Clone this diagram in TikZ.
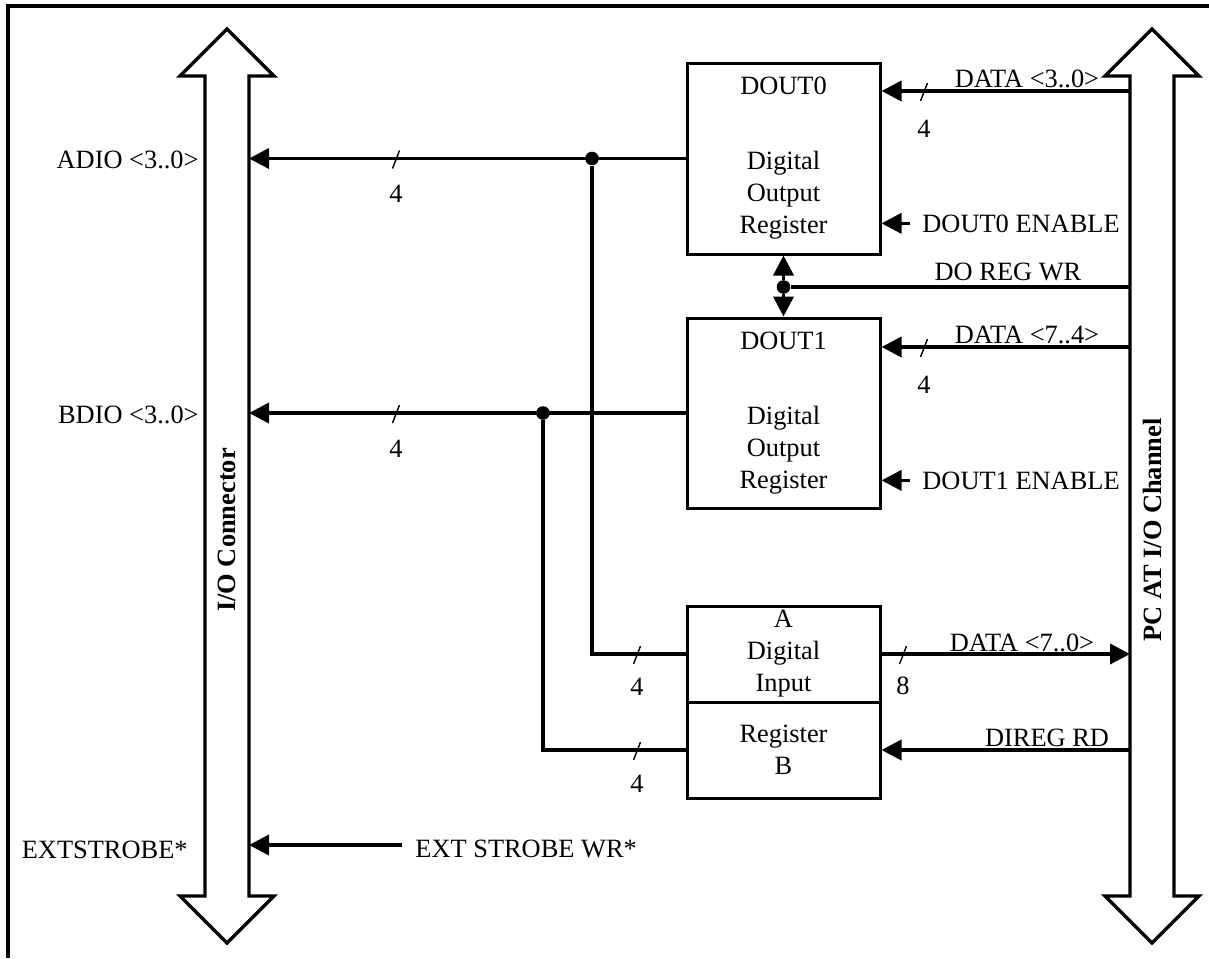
\documentclass[tikz,border=0pt]{standalone}
\usepackage{fontspec}
\setmainfont{Liberation Serif}
\usetikzlibrary{arrows.meta, positioning}

\begin{document}
\begin{tikzpicture}[
    x=0.5pt, y=-0.5pt,
    font=\fontsize{13.2}{16}\selectfont,
    every node/.style={inner sep=0pt},
    regbox/.style={draw, line width=1.5pt, minimum width=96.5pt, align=center},
    bus/.style={line width=1.7pt, line join=miter},
    wire/.style={line width=1.8pt},
    sig/.style={wire, -{Triangle[length=10pt, width=10pt]}},
    slashmk/.style={line width=0.7pt},
    dot/.style={circle, fill, minimum size=6.8pt},
    lbl/.style={anchor=base},
    busname/.style={rotate=90, font=\fontsize{13.2}{16}\selectfont\bfseries}
]
\useasboundingbox (0,0) rectangle (1209,958);

% frame
\draw[line width=1.8pt] (8,958) -- (8,6) -- (1209,6);

% the two buses
\draw[bus] (227,29) -- (274,76) -- (249,76) -- (249,896) -- (274,896) -- (227,943)
    -- (180,896) -- (205,896) -- (205,76) -- (180,76) -- cycle;
\draw[bus] (1152,29) -- (1199,76) -- (1174,76) -- (1174,896) -- (1199,896) -- (1152,943)
    -- (1105,896) -- (1130,896) -- (1130,76) -- (1105,76) -- cycle;
\node[busname] (ioconn) at (227,530) {I/O Connector};
\node[busname] (pcchan) at (1152,530) {PC AT I/O Channel};
\coordinate (ioedge) at (249,0);
\coordinate (pcedge) at (1130,0);

% registers
\node[regbox, minimum height=95.5pt] (dout0) at (783.5,158.5) {DOUT0\\[21.5pt]Digital\\Output\\Register};
\node[regbox, minimum height=95pt] (dout1) at (783.5,413) {DOUT1\\[21.5pt]Digital\\Output\\Register};
\node[regbox, minimum height=48pt] (dia) at (783.5,654) {A\\Digital\\Input};
\node[regbox, minimum height=48pt] (dib) at (783.5,750) {Register\\B};

% outputs to the I/O connector
\draw[sig] (dout0.west) -- (dout0.west -| ioedge);
\draw[sig] (dout1.west) -- (dout1.west -| ioedge);
\node[dot] (tapa) at (592,158.5) {};
\node[dot] (tapb) at (543,413) {};
\draw[wire] (tapa) |- (dia.west);
\draw[wire] (tapb) |- (dib.west);

% PC side
\coordinate (d30) at (1130,91);
\coordinate (d74) at (1130,347);
\draw[sig] (d30) -- (d30 -| dout0.east);
\draw[sig] (d74) -- (d74 -| dout1.east);
\draw[sig] (dia.east) -- (dia.east -| pcedge);
\draw[sig] (dib.east -| pcedge) -- (dib.east);

\node[dot] (wrtap) at (783.5,287) {};
\draw[wire] (wrtap) -- (wrtap -| pcedge);
\draw[sig] (wrtap) -- (dout0.south);
\draw[sig] (wrtap) -- (dout1.north);

% enables and strobe
\node[anchor=base west] (en0) at (922,232) {DOUT0 ENABLE};
\node[anchor=base west] (en1) at (922,489) {DOUT1 ENABLE};
\draw[sig] ([xshift=-6pt]en0.west) -- (en0.west -| dout0.east);
\draw[sig] ([xshift=-6pt]en1.west) -- (en1.west -| dout1.east);
\node[anchor=base west] (extwr) at (415,857) {EXT STROBE WR*};
\coordinate (extwrend) at (402,845);
\draw[sig] (extwrend) -- (extwrend -| ioedge);

% labels
\node[anchor=base east] (adio) at (199,168) {ADIO <3..0>};
\node[anchor=base east] (bdio) at (199,423) {BDIO <3..0>};
\node[anchor=base east] (extstb) at (188,858) {EXTSTROBE*};
\node[lbl] (d30lbl) at (1027,87) {DATA <3..0>};
\node[lbl] (d74lbl) at (1027,343) {DATA <7..4>};
\node[lbl] (d70lbl) at (1022,651) {DATA <7..0>};
\node[lbl] (dirdlbl) at (1047,746) {DIREG RD};
\node[lbl] (dowrlbl) at (1008,280) {DO REG WR};

% bus widths
\foreach \x/\y/\by/\n [count=\i] in {924/91/137/4, 396/158.5/202/4, 924/347/393/4,
    396/413/457/4, 637/654/695/4, 637/750/792/4, 903/654/694/8} {
  \draw[slashmk] (\x,\y) ++(-3.5,10) -- ++(7,-18);
  \node[lbl] (bw\i) at (\x,\by) {\n};
}

\end{tikzpicture}
\end{document}
